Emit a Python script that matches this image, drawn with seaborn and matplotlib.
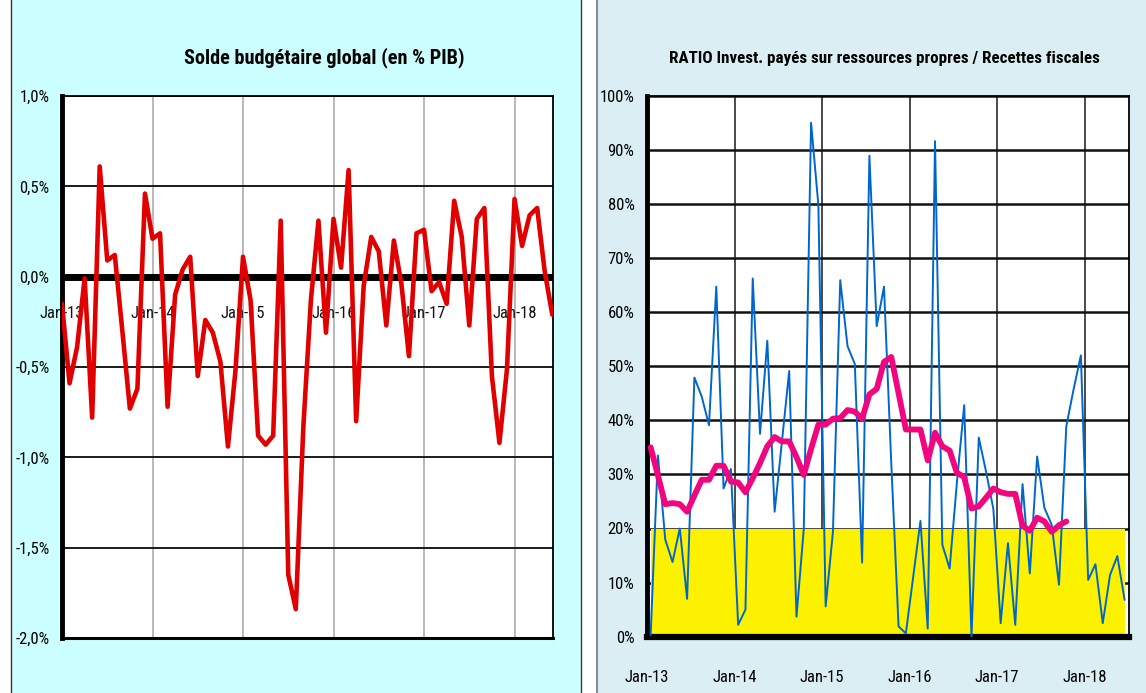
import numpy as np
import matplotlib
matplotlib.use("Agg")
import matplotlib.pyplot as plt
import seaborn as sns
from matplotlib.patches import Rectangle
from matplotlib.ticker import FuncFormatter
from matplotlib import font_manager as fm

# ---------------- data ----------------
# Solde budgétaire global (en % PIB), monthly Jan-13 .. Jun-18
solde = [-0.15, -0.59, -0.39, -0.01, -0.78, 0.61, 0.09, 0.12, -0.30, -0.73,
         -0.62, 0.46, 0.21, 0.24, -0.72, -0.10, 0.04, 0.11, -0.55, -0.24,
         -0.31, -0.47, -0.94, -0.52, 0.11, -0.13, -0.88, -0.93, -0.88, 0.31,
         -1.65, -1.84, -0.83, -0.13, 0.31, -0.31, 0.32, 0.05, 0.59, -0.80,
         -0.05, 0.22, 0.14, -0.27, 0.20, -0.04, -0.44, 0.24, 0.26, -0.08,
         -0.03, -0.15, 0.42, 0.22, -0.27, 0.32, 0.38, -0.55, -0.92, -0.51,
         0.43, 0.17, 0.34, 0.38, 0.03, -0.21]

# RATIO Invest. payés sur ressources propres / Recettes fiscales (%), monthly
ratio = [0.3, 33.5, 18.0, 13.8, 20.0, 7.0, 47.9, 44.4, 39.1, 64.7,
         27.4, 31.0, 2.2, 5.0, 66.2, 37.5, 54.7, 23.1, 36.0, 49.1,
         3.7, 19.9, 95.0, 79.8, 5.6, 19.4, 65.9, 53.7, 50.4, 13.7,
         88.9, 57.4, 64.7, 32.0, 1.9, 0.6, 11.0, 21.4, 1.5, 91.6,
         17.0, 12.6, 28.5, 42.8, 0.0, 36.8, 30.5, 23.6, 2.5, 17.3,
         2.2, 28.2, 11.7, 33.3, 23.8, 20.7, 9.6, 38.9, 45.7, 52.0,
         10.5, 13.4, 2.5, 11.4, 14.9, 6.8]

# smoothed ratio (pink line)
ratio_mm = [35.0, 29.8, 24.5, 24.7, 24.5, 23.1, 26.1, 29.0, 29.0, 31.6,
            31.6, 28.7, 28.5, 26.7, 29.3, 32.1, 35.2, 36.9, 36.1, 36.1,
            33.2, 29.9, 34.7, 39.2, 39.2, 40.3, 40.4, 41.9, 41.6, 40.3,
            44.8, 45.8, 50.8, 51.7, 45.0, 38.3, 38.3, 38.3, 32.6, 37.7,
            35.2, 34.4, 30.3, 29.5, 23.7, 24.1, 25.7, 27.4, 26.7, 26.4,
            26.4, 20.5, 19.6, 22.0, 21.3, 19.4, 20.6, 21.3]

seuil = 20  # yellow band threshold (%)

year_labels = ["Jan-13", "Jan-14", "Jan-15", "Jan-16", "Jan-17", "Jan-18"]
left_title = "Solde budgétaire global (en % PIB)"
right_title = "RATIO Invest. payés sur ressources propres / Recettes fiscales"

# ---------------- style ----------------
sns.set_theme(style="white")
plt.rcParams["font.family"] = ["Liberation Sans", "DejaVu Sans"]
plt.rcParams["axes.unicode_minus"] = False


def narrow_font(bold):
    prefs = ["liberationsansnarrow", "arialnarrow", "robotocondensed",
             "opensanscondensed", "notosanscondensed", "dejavusanscondensed",
             "condensed", "narrow"]
    cands = []
    for f in fm.fontManager.ttflist:
        fn = f.fname.lower().replace("-", "").replace("_", "").replace(" ", "")
        if "italic" in fn or "oblique" in fn:
            continue
        if not ("condensed" in fn or "narrow" in fn):
            continue
        if "semicondensed" in fn or "extracondensed" in fn:
            continue
        w = f.weight if isinstance(f.weight, int) else (700 if "bold" in str(f.weight) else 400)
        isbold = "bold" in fn or w >= 600
        if "semibold" in fn or "extrabold" in fn or "light" in fn or "medium" in fn or "black" in fn or "thin" in fn:
            continue
        if isbold != bold:
            continue
        rank = next(i for i, p in enumerate(prefs) if p in fn)
        cands.append((rank, f.fname))
    if cands:
        cands.sort()
        return fm.FontProperties(fname=cands[0][1]), True
    return fm.FontProperties(family="Liberation Sans", weight="bold" if bold else "normal"), False


fp_reg, has_narrow = narrow_font(False)
fp_bold, _ = narrow_font(True)
tick_size = 12 if has_narrow else 10.5

W, H = 1146, 693
fig = plt.figure(figsize=(W / 100, H / 100), dpi=100)
fig.patch.set_facecolor("white")


def fx(px):
    return px / W


def fy(py):
    return 1 - py / H


# panel backgrounds
fig.patches.append(Rectangle((fx(11), -0.02), fx(581 - 11), 1.04, transform=fig.transFigure,
                             facecolor="#CCFFFF", edgecolor="#3A3A3A", lw=1.0, zorder=-10))
fig.patches.append(Rectangle((fx(597), -0.02), 0.6, 1.04, transform=fig.transFigure,
                             facecolor="#DAEEF3", edgecolor="#8C8C8C", lw=1.5, zorder=-10))

xticks = np.arange(0, 12 * len(year_labels), 12)

# ---------------- left chart ----------------
ax1 = fig.add_axes([fx(62), fy(638), fx(553 - 62), (638 - 96) / H])
ax1.set_facecolor("white")
m1 = np.arange(len(solde))
yt1 = np.arange(-2.0, 1.01, 0.5)
for v in xticks[1:]:
    ax1.axvline(v, color="#A6A6A6", lw=1.1, zorder=1)
for h in yt1:
    ax1.axhline(h, color="#1A1A1A", lw=1.4, zorder=1)
ax1.axhline(0, color="black", lw=5, zorder=3)
for xt, lab in zip(xticks, year_labels):
    ax1.text(xt, -0.206, lab, ha="center", va="center", fontproperties=fp_reg,
             fontsize=tick_size, color="#111111", zorder=4)
sns.lineplot(x=m1, y=solde, ax=ax1, color="#E00000", linewidth=3.3, zorder=5)
ax1.set_xlim(0, 65.1)
ax1.set_ylim(-2.0, 1.0)
ax1.set_xticks([])
ax1.set_yticks(yt1)
ax1.yaxis.set_major_formatter(FuncFormatter(lambda v, p: f"{v:.1f}%".replace(".", ",")))
ax1.tick_params(axis="y", direction="out", length=3, width=2.5, colors="black", pad=6)
for lab in ax1.get_yticklabels():
    lab.set_fontproperties(fp_reg)
    lab.set_fontsize(tick_size)
ax1.set_xlabel("")
ax1.set_ylabel("")
for s in ["top", "right"]:
    ax1.spines[s].set_linewidth(1.3)
    ax1.spines[s].set_color("black")
ax1.spines["left"].set_linewidth(3.5)
ax1.spines["left"].set_color("black")
ax1.spines["bottom"].set_linewidth(2.2)
ax1.spines["bottom"].set_color("black")

# ---------------- right chart ----------------
ax2 = fig.add_axes([fx(647), fy(636.7), fx(1129 - 647), (636.7 - 95.7) / H])
ax2.set_facecolor("white")
m2 = np.arange(len(ratio)) + 0.5
yt2 = np.arange(0, 101, 10)
for v in xticks[1:]:
    ax2.axvline(v, color="#3C3C3C", lw=1.3, zorder=1)
for h in yt2:
    ax2.axhline(h, color="#111111", lw=1.8, zorder=1)
ax2.fill_between(m2, 0, seuil, color="#FCF200", lw=0, zorder=2)
sns.lineplot(x=m2, y=ratio, ax=ax2, color="#0066CC", linewidth=1.4, zorder=4)
sns.lineplot(x=m2[:len(ratio_mm)], y=ratio_mm, ax=ax2, color="#F0067F", linewidth=4.2, zorder=5)
ax2.set_xlim(0, 66.1)
ax2.set_ylim(0, 100)
ax2.set_yticks(yt2)
ax2.yaxis.set_major_formatter(FuncFormatter(lambda v, p: f"{int(round(v))}%"))
ax2.set_xticks(xticks)
ax2.set_xticklabels(year_labels)
ax2.tick_params(axis="y", direction="out", length=3, width=2.5, colors="black", pad=6)
ax2.tick_params(axis="x", direction="in", length=4, width=3, colors="black", pad=24)
for lab in ax2.get_yticklabels() + ax2.get_xticklabels():
    lab.set_fontproperties(fp_reg)
    lab.set_fontsize(tick_size)
ax2.set_xlabel("")
ax2.set_ylabel("")
for s in ["top", "right"]:
    ax2.spines[s].set_linewidth(1.3)
    ax2.spines[s].set_color("black")
ax2.spines["left"].set_linewidth(3.5)
ax2.spines["left"].set_color("black")
ax2.spines["bottom"].set_linewidth(4.5)
ax2.spines["bottom"].set_color("black")

# ---------------- titles (fitted to reference widths) ----------------
renderer = fig.canvas.get_renderer()
for txt, cx, target in [(left_title, 324, 282), (right_title, 884.5, 433)]:
    t = fig.text(fx(cx), fy(58), txt, ha="center", va="center",
                 fontproperties=fp_bold, fontsize=14, color="black")
    bb = t.get_window_extent(renderer)
    t.set_fontsize(14 * target / bb.width)

fig.savefig("out.png", dpi=100)
